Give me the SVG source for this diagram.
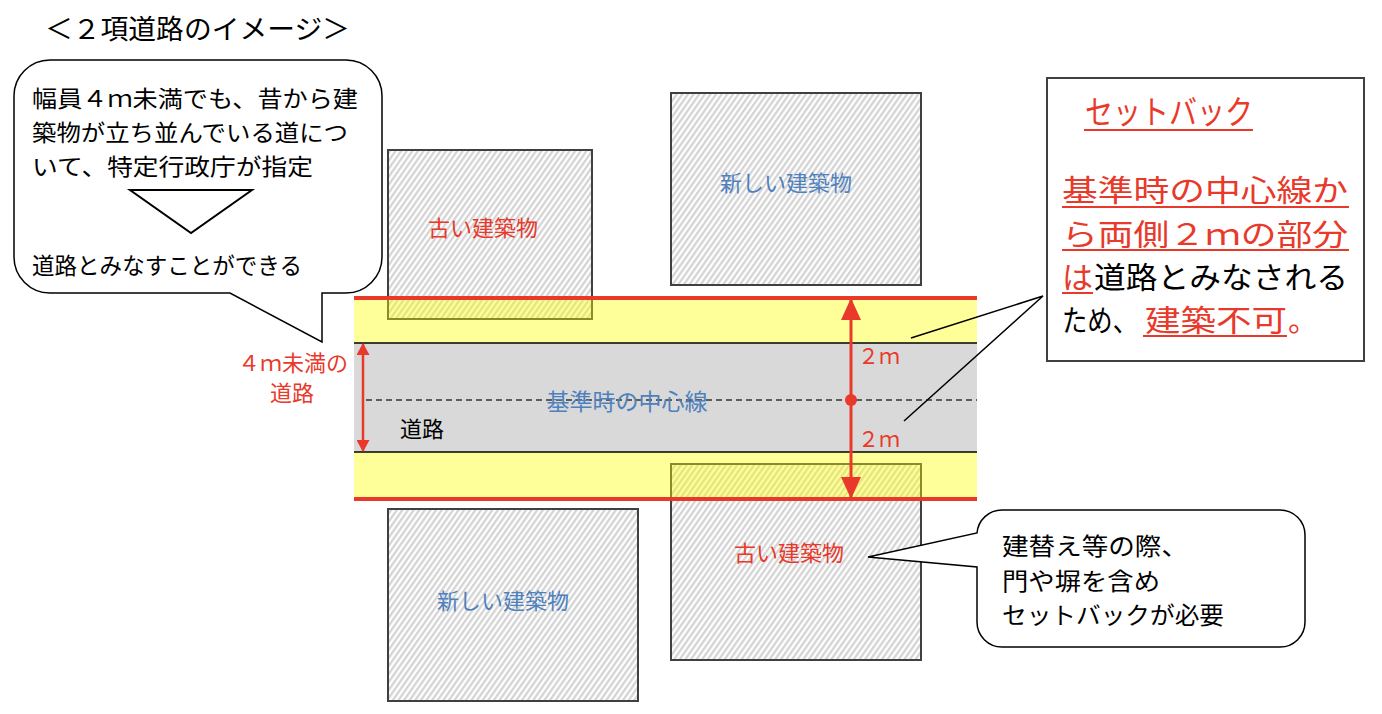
<svg xmlns="http://www.w3.org/2000/svg" width="1382" height="714" viewBox="0 0 1382 714">
  <style>
    text { font-family: "Noto Sans CJK JP", "Noto Sans", sans-serif; }
    .bld { fill: url(#hatch); stroke: #404040; stroke-width: 2; }
    .band { fill: #FFFF00; fill-opacity: 0.4; }
    .red { fill: #E8392B; }
    .blue { fill: #4F81BD; }
    .blk { fill: #000000; }
    .redline { stroke: #E8392B; stroke-width: 4; }
    .edge { stroke: #000000; stroke-width: 1.5; }
    .leader { stroke: #000000; stroke-width: 1.5; fill: none; }
    .uline { stroke: #E8392B; stroke-width: 2; }
    .bubble { fill: #FFFFFF; stroke: #000000; stroke-width: 1.5; }
  </style>
  <defs>
    <pattern id="hatch" patternUnits="userSpaceOnUse" width="4.6" height="4.6" patternTransform="rotate(35)">
      <rect width="4.6" height="4.6" fill="#FFFFFF"/>
      <line x1="1.2" y1="0" x2="1.2" y2="4.6" stroke="#D2D2D2" stroke-width="2.2"/>
    </pattern>
    <marker id="ahS" markerUnits="userSpaceOnUse" markerWidth="12" markerHeight="13" viewBox="0 0 12 13" refX="11" refY="6.5" orient="auto-start-reverse">
      <path d="M0,0 L12,6.5 L0,13 Z" fill="#E8392B"/>
    </marker>
    <marker id="ahL" markerUnits="userSpaceOnUse" markerWidth="22" markerHeight="20" viewBox="0 0 22 20" refX="21" refY="10" orient="auto-start-reverse">
      <path d="M0,0 L22,10 L0,20 Z" fill="#E8392B"/>
    </marker>
  </defs>

  <rect width="1382" height="714" fill="#FFFFFF"/>

  <g id="title">
    <text x="45" y="39" font-size="27" class="blk" textLength="305" lengthAdjust="spacingAndGlyphs">＜２項道路のイメージ＞</text>
  </g>

  <g id="building-old-top">
    <rect class="bld" x="388" y="150" width="204" height="169"/>
    <text x="483" y="236" font-size="22" class="red" text-anchor="middle">古い建築物</text>
  </g>
  <g id="building-new-top">
    <rect class="bld" x="671" y="93" width="250" height="192"/>
    <text x="786" y="191" font-size="22" class="blue" text-anchor="middle">新しい建築物</text>
  </g>
  <g id="building-new-bottom">
    <rect class="bld" x="388" y="509" width="250" height="192"/>
    <text x="503" y="609" font-size="22" class="blue" text-anchor="middle">新しい建築物</text>
  </g>
  <g id="building-old-bottom">
    <rect class="bld" x="671" y="464" width="250" height="196"/>
    <text x="789" y="561" font-size="22" class="red" text-anchor="middle">古い建築物</text>
  </g>

  <g id="road">
    <rect class="band" x="354" y="298" width="623" height="45"/>
    <rect class="band" x="354" y="452" width="623" height="47"/>
    <rect x="354" y="343" width="623" height="109" fill="#D9D9D9"/>
    <line class="edge" x1="354" y1="343" x2="977" y2="343"/>
    <line class="edge" x1="354" y1="452" x2="977" y2="452"/>
    <line class="redline" x1="354" y1="298" x2="977" y2="298"/>
    <line class="redline" x1="354" y1="499" x2="977" y2="499"/>
    <line x1="366" y1="400" x2="977" y2="400" stroke="#333333" stroke-width="1.5" stroke-dasharray="6,4"/>
    <text x="627" y="410" font-size="23" class="blue" text-anchor="middle">基準時の中心線</text>
    <text x="400" y="437" font-size="22" class="blk">道路</text>
  </g>

  <g id="connectors">
    <line x1="363" y1="344" x2="363" y2="451" stroke="#E8392B" stroke-width="2.5" marker-start="url(#ahS)" marker-end="url(#ahS)"/>
    <line x1="851" y1="299" x2="851" y2="498" stroke="#E8392B" stroke-width="3" marker-start="url(#ahL)" marker-end="url(#ahL)"/>
    <circle cx="851" cy="400" r="6" fill="#E8392B"/>
    <polyline class="leader" points="911,338 1043,296 904,421"/>
  </g>

  <g id="width-label">
    <text x="238" y="371" font-size="22" class="red" textLength="110" lengthAdjust="spacingAndGlyphs">４ｍ未満の</text>
    <text x="292" y="401" font-size="22" class="red" text-anchor="middle">道路</text>
  </g>
  <g id="dim-labels">
    <text x="858" y="364" font-size="22" class="red" textLength="42" lengthAdjust="spacingAndGlyphs">２ｍ</text>
    <text x="858" y="447" font-size="22" class="red" textLength="42" lengthAdjust="spacingAndGlyphs">２ｍ</text>
  </g>

  <g id="callout-definition">
    <path class="bubble" d="M50,60 H346 A36,36 0 0 1 382,96 V257 A36,36 0 0 1 346,293 H322 V342 L230,293 H50 A36,36 0 0 1 14,257 V96 A36,36 0 0 1 50,60 Z"/>
    <text font-size="23" class="blk">
      <tspan x="32" y="107" textLength="326" lengthAdjust="spacingAndGlyphs">幅員４ｍ未満でも、昔から建</tspan>
      <tspan x="32" y="141" textLength="316" lengthAdjust="spacingAndGlyphs">築物が立ち並んでいる道につ</tspan>
      <tspan x="32" y="175" textLength="281" lengthAdjust="spacingAndGlyphs">いて、特定行政庁が指定</tspan>
      <tspan x="32" y="274" textLength="270" lengthAdjust="spacingAndGlyphs">道路とみなすことができる</tspan>
    </text>
    <polygon points="130,190 252,190 191,233" fill="#FFFFFF" stroke="#000000" stroke-width="2"/>
  </g>

  <g id="setback-box">
    <rect x="1047" y="78" width="317" height="283" fill="#FFFFFF" stroke="#404040" stroke-width="2"/>
    <text x="1085" y="124" font-size="33" class="red" textLength="168" lengthAdjust="spacingAndGlyphs">セットバック</text>
    <line class="uline" x1="1084" y1="130" x2="1253" y2="130"/>
    <text font-size="30" class="red">
      <tspan x="1062" y="201" textLength="286" lengthAdjust="spacingAndGlyphs">基準時の中心線か</tspan>
      <tspan x="1062" y="245" textLength="286" lengthAdjust="spacingAndGlyphs">ら両側２ｍの部分</tspan>
    </text>
    <line class="uline" x1="1062" y1="207" x2="1349" y2="207"/>
    <line class="uline" x1="1062" y1="250" x2="1349" y2="250"/>
    <text y="288" font-size="30"><tspan x="1062" class="red" textLength="31" lengthAdjust="spacingAndGlyphs">は</tspan><tspan x="1094" class="blk" textLength="254" lengthAdjust="spacingAndGlyphs">道路とみなされる</tspan></text>
    <line class="uline" x1="1062" y1="293" x2="1093" y2="293"/>
    <text y="331" font-size="30"><tspan x="1062" class="blk" textLength="76" lengthAdjust="spacingAndGlyphs">ため、</tspan><tspan x="1145" class="red" textLength="142" lengthAdjust="spacingAndGlyphs">建築不可</tspan><tspan x="1288" class="red">。</tspan></text>
    <line class="uline" x1="1143" y1="336" x2="1287" y2="336"/>
  </g>

  <g id="callout-rebuild">
    <path class="bubble" d="M1002,510 H1280 A25,25 0 0 1 1305,535 V622 A25,25 0 0 1 1280,647 H1002 A25,25 0 0 1 977,622 V567 L868,557 L977,533 A25,25 0 0 1 1002,510 Z"/>
    <text font-size="24" class="blk">
      <tspan x="1002" y="555" textLength="186" lengthAdjust="spacingAndGlyphs">建替え等の際、</tspan>
      <tspan x="1002" y="590" textLength="158" lengthAdjust="spacingAndGlyphs">門や塀を含め</tspan>
      <tspan x="1002" y="624" textLength="222" lengthAdjust="spacingAndGlyphs">セットバックが必要</tspan>
    </text>
  </g>
</svg>
